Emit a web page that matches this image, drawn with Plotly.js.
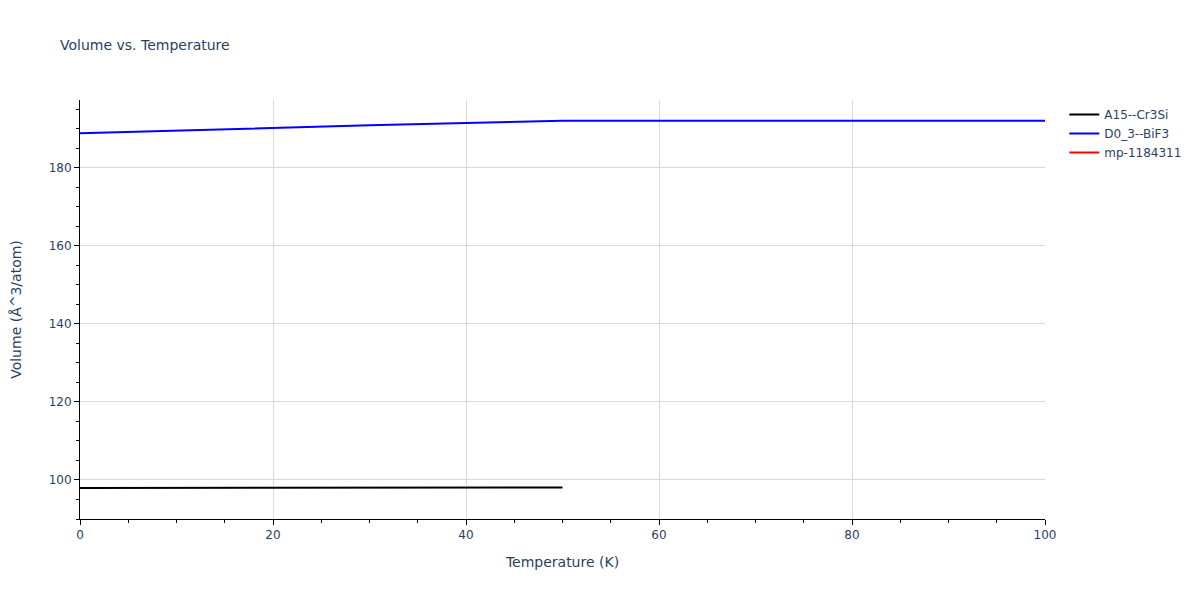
<!DOCTYPE html>
<html>
<head>
<meta charset="utf-8">
<script src="https://cdn.plot.ly/plotly-3.0.1.min.js"></script>
<style>
  html, body { margin: 0; padding: 0; background: #fff; }
  #chart { width: 1200px; height: 600px; }
</style>
</head>
<body>
<div id="chart"></div>
<script>
// Volume vs temperature, three structures
var tempA15 = [0, 10, 20, 30, 40, 50];
var volA15 = [97.95, 97.97, 98.0, 98.03, 98.06, 98.1];

var tempD03 = [0, 10, 20, 30, 40, 50, 60, 70, 80, 90, 100];
var volD03 = [188.9, 189.6, 190.3, 190.9, 191.5, 192.05, 192.05, 192.05, 192.05, 192.05, 192.05];

// no usable points for this one, only its legend entry shows
var tempMp = [0];
var volMp = [null];

function makeTrace(name, x, y, color) {
    return {
        name: name,
        x: x,
        y: y,
        type: 'scatter',
        mode: 'lines',
        line: { color: color, width: 2 }
    };
}

var traces = [
    makeTrace('A15--Cr3Si', tempA15, volA15, 'black'),
    makeTrace('D0_3--BiF3', tempD03, volD03, 'blue'),
    makeTrace('mp-1184311', tempMp, volMp, 'red')
];

var axisStyle = {
    showline: true,
    linecolor: 'black',
    linewidth: 1,
    ticks: 'outside',
    tickcolor: 'black',
    ticklen: 5,
    gridcolor: '#d9d9d9',
    zeroline: false
};

var layout = {
    width: 1200,
    height: 600,
    title: { text: 'Volume vs. Temperature', x: 0.05, y: 0.925, yanchor: 'middle', font: { size: 14 } },
    font: { family: '"DejaVu Sans", Verdana, sans-serif', color: '#2a3f5f', size: 12 },
    paper_bgcolor: 'white',
    plot_bgcolor: 'white',
    margin: { t: 100, r: 155, b: 81, l: 80 },
    xaxis: Object.assign({}, axisStyle, {
        title: { text: 'Temperature (K)', font: { size: 14 }, standoff: 15 },
        range: [0, 100],
        dtick: 20,
        minor: { ticks: 'outside', ticklen: 3, tickcolor: 'black', dtick: 5, showgrid: false }
    }),
    yaxis: Object.assign({}, axisStyle, {
        title: { text: 'Volume (Å^3/atom)', font: { size: 14 }, standoff: 23 },
        range: [90, 197.4],
        dtick: 20,
        minor: { ticks: 'outside', ticklen: 3, tickcolor: 'black', dtick: 5, showgrid: false }
    }),
    legend: { x: 1.02, y: 1, xanchor: 'left', yanchor: 'top', font: { size: 12 } },
    showlegend: true
};

Plotly.newPlot('chart', traces, layout, { displayModeBar: false });
</script>
</body>
</html>
